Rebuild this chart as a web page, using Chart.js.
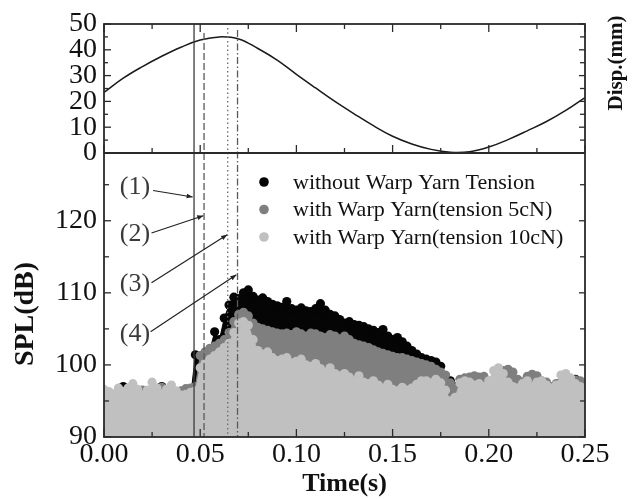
<!DOCTYPE html>
<html><head><meta charset="utf-8">
<script src="https://cdn.jsdelivr.net/npm/chart.js@4.4.1/dist/chart.umd.min.js"></script>
<style>html,body{margin:0;padding:0;background:#fff;}</style>
</head><body>
<canvas id="c" width="633" height="499"></canvas>
<script>
// ---------- DATA ----------
const splTime = [0,0.0025,0.005,0.0075,0.01,0.0125,0.015,0.0175,0.02,0.0225,0.025,0.0275,0.03,0.0325,0.035,0.0375,0.04,0.0425,0.045,0.0475,0.05,0.0525,0.055,0.0575,0.06,0.0625,0.065,0.0675,0.07,0.0725,0.075,0.0775,0.08,0.0825,0.085,0.0875,0.09,0.0925,0.095,0.0975,0.1,0.1025,0.105,0.1075,0.11,0.1125,0.115,0.1175,0.12,0.1225,0.125,0.1275,0.13,0.1325,0.135,0.1375,0.14,0.1425,0.145,0.1475,0.15,0.1525,0.155,0.1575,0.16,0.1625,0.165,0.1675,0.17,0.1725,0.175,0.1775,0.18,0.1825,0.185,0.1875,0.19,0.1925,0.195,0.1975,0.2,0.2025,0.205,0.2075,0.21,0.2125,0.215,0.2175,0.22,0.2225,0.225,0.2275,0.23,0.2325,0.235,0.2375,0.24,0.2425,0.245,0.2475,0.25];
const splNoTension = [95.5,95.8,95.0,95.6,97.0,95.5,95.2,96.0,96.3,95.5,95.0,96.3,97.0,95.5,95.2,95.0,95.5,95.3,95.5,101.4,100.5,101.0,102.0,104.6,103.5,106.5,108.3,109.4,109.2,110.0,110.4,109.5,109.0,109.3,108.8,108.4,108.2,108.0,108.8,107.8,107.6,107.9,107.5,107.4,107.8,108.5,107.6,107.0,106.8,106.3,105.8,106.0,105.6,105.5,105.3,105.0,104.8,104.5,104.9,104.0,103.5,103.8,103.2,102.6,102.0,101.5,101.0,100.8,100.6,100.4,99.8,98.5,97.8,97.0,96.5,96.0,96.5,96.8,96.0,96.5,96.0,96.3,96.5,98.5,99.0,98.0,96.5,96.2,96.0,96.3,96.5,96.0,96.4,96.8,97.0,96.0,96.5,97.8,98.0,97.6,96.5];
const spl5cN = [96.0,95.6,95.8,95.3,96.2,96.0,95.5,96.0,96.5,95.0,95.6,96.0,96.9,96.0,95.8,96.2,96.4,96.7,96.8,97.0,101.3,101.8,102.3,102.6,103.0,103.5,104.5,106.0,107.0,107.3,106.8,105.8,105.2,105.0,104.8,104.6,104.4,104.3,104.4,104.2,104.6,104.3,104.0,104.4,104.3,104.0,103.8,104.2,104.0,103.6,104.0,103.5,103.0,102.8,102.6,102.4,102.1,101.8,101.6,101.4,101.2,101.0,101.0,100.8,100.6,100.4,100.2,100.0,99.8,99.4,99.0,98.6,97.5,96.8,98.0,98.2,98.3,98.5,98.3,98.4,97.6,98.0,98.4,99.2,99.4,99.0,98.0,97.6,98.4,98.7,98.5,97.8,97.6,97.0,97.4,97.6,97.5,97.6,97.9,97.8,97.2];
const spl10cN = [96.6,96.3,96.0,96.8,96.3,96.8,97.4,96.6,95.8,96.5,97.6,96.8,96.0,96.6,97.2,96.4,95.8,95.9,96.2,96.4,99.6,100.2,100.8,101.3,101.8,102.4,103.0,104.5,105.8,106.0,105.5,103.5,102.0,101.5,101.8,101.0,100.6,100.8,101.0,100.3,100.5,100.8,100.0,99.8,100.2,99.5,99.0,99.6,98.8,98.5,98.8,98.3,97.8,98.5,97.6,97.4,97.8,97.2,96.8,97.3,96.6,96.4,96.9,96.5,96.8,97.3,97.8,97.8,97.5,98.0,97.5,96.5,95.0,95.5,97.5,97.8,97.6,97.2,97.4,97.0,97.8,99.2,99.6,98.8,97.6,97.0,96.8,97.4,97.8,97.0,97.6,97.8,97.2,96.8,97.2,98.6,98.8,98.2,97.4,97.0,96.8];
const dispTime = [0,0.01,0.02,0.03,0.04,0.05,0.06,0.07,0.08,0.09,0.10,0.11,0.12,0.13,0.14,0.15,0.16,0.17,0.18,0.19,0.20,0.21,0.22,0.23,0.24,0.25];
const dispValues = [23.5,29.0,33.5,37.5,41.0,43.8,45.0,44.2,40.5,36.0,30.5,25.2,20.0,15.2,10.6,6.5,3.5,1.4,0.3,0.5,2.3,5.2,8.6,12.2,16.5,21.5];
const seriesLabels = ['without Warp Yarn Tension','with Warp Yarn(tension 5cN)','with Warp Yarn(tension 10cN)'];
const seriesColors = ['#050505','#7f7f7f','#c0c0c0'];
const markerTimes = [0.0468, 0.052, 0.0643, 0.0694];
const markerLabels = ['(1)','(2)','(3)','(4)'];
const xMajorTicks = [0,0.05,0.10,0.15,0.20,0.25];
const xMinorTicks = [0.025,0.075,0.125,0.175,0.225];
const dispMajorTicks = [0,10,20,30,40,50];
const dispMinorTicks = [5,15,25,35,45];
const splMajorTicks = [90,100,110,120];
const splMinorTicks = [95,105,115,125];

// ---------- STYLE / LAYOUT ----------
const SERIF = '"Liberation Serif","Times New Roman",serif';
const markerDash = [[], [7,3], [1.5,2.8], [7,2.5,1.5,2.5]];
const markerColor = ['#3a3a3a','#5a5a5a','#6a6a6a','#5a5a5a'];
const markerTopGap = [0, 9, 4, 6];
// annotation: text anchor [t, dB], leader from -> to [t, dB]
const annText = [[0.0161,124.6],[0.0161,118.1],[0.0161,111.2],[0.0161,104.2]];
const annFrom = [[0.0255,124.2],[0.0247,118.3],[0.0247,111.4],[0.0242,104.6]];
const annTo   = [[0.0461,123.3],[0.0516,120.7],[0.0640,118.05],[0.0688,112.5]];

function pts(ts, vs){ return ts.map((t,i)=>({x:t, y:vs[i]})); }
const splSeries = [splNoTension, spl5cN, spl10cN];

const datasets = [{
  label:'disp', data: pts(dispTime, dispValues), yAxisID:'yTop', xAxisID:'x',
  borderColor:'#1a1a1a', borderWidth:1.5, pointRadius:0, tension:0.4, fill:false, order:0
}];
splSeries.forEach((vals, i)=>{
  datasets.push({
    label: seriesLabels[i], data: pts(splTime, vals), yAxisID:'yBot', xAxisID:'x',
    borderColor: seriesColors[i], backgroundColor: seriesColors[i], borderWidth:1,
    pointRadius:4.6, pointBackgroundColor: seriesColors[i], pointBorderWidth:0, pointHoverRadius:4.6,
    fill:'start', tension:0, order: 3 - i, clip: 0
  });
});

function drawTick(ctx, x1, y1, x2, y2){ ctx.beginPath(); ctx.moveTo(x1,y1); ctx.lineTo(x2,y2); ctx.stroke(); }
function arrowHead(ctx, x1, y1, x2, y2){
  const ang = Math.atan2(y2-y1, x2-x1), L = 6, W = 2.4;
  ctx.beginPath();
  ctx.moveTo(x2, y2);
  ctx.lineTo(x2 - L*Math.cos(ang) + W*Math.sin(ang), y2 - L*Math.sin(ang) - W*Math.cos(ang));
  ctx.lineTo(x2 - L*Math.cos(ang) - W*Math.sin(ang), y2 - L*Math.sin(ang) + W*Math.cos(ang));
  ctx.closePath(); ctx.fill();
}

const decor = {
  id:'decor',
  afterDatasetsDraw(chart){
    const {ctx, chartArea:a} = chart;
    const x = chart.scales.x, yT = chart.scales.yTop, yB = chart.scales.yBot;
    ctx.save();
    // vertical marker lines
    markerTimes.forEach((t,i)=>{
      const px = x.getPixelForValue(t);
      ctx.beginPath(); ctx.setLineDash(markerDash[i]); ctx.lineWidth = 1.3; ctx.strokeStyle = markerColor[i];
      ctx.moveTo(px, a.top + markerTopGap[i]); ctx.lineTo(px, a.bottom); ctx.stroke();
    });
    ctx.setLineDash([]);
    // frame
    ctx.strokeStyle = '#2a2a2a'; ctx.lineWidth = 1.8;
    ctx.strokeRect(a.left, a.top, a.right - a.left, a.bottom - a.top);
    const sep = yT.bottom;
    drawTick(ctx, a.left, sep, a.right, sep);
    // x ticks (inward) on top edge, separator (upward), bottom edge (upward)
    ctx.lineWidth = 1.3;
    xMajorTicks.forEach(v=>{ const p = x.getPixelForValue(v);
      drawTick(ctx,p,a.top,p,a.top+8); drawTick(ctx,p,sep,p,sep-8); drawTick(ctx,p,a.bottom,p,a.bottom-8); });
    xMinorTicks.forEach(v=>{ const p = x.getPixelForValue(v);
      drawTick(ctx,p,a.top,p,a.top+5); drawTick(ctx,p,sep,p,sep-5); drawTick(ctx,p,a.bottom,p,a.bottom-5); });
    dispMajorTicks.forEach(v=>{ const p = yT.getPixelForValue(v);
      drawTick(ctx,a.left,p,a.left+7,p); drawTick(ctx,a.right,p,a.right-6,p); });
    dispMinorTicks.forEach(v=>{ const p = yT.getPixelForValue(v);
      drawTick(ctx,a.left,p,a.left+4,p); drawTick(ctx,a.right,p,a.right-5,p); });
    splMajorTicks.forEach(v=>{ const p = yB.getPixelForValue(v);
      drawTick(ctx,a.left,p,a.left+7,p); drawTick(ctx,a.right,p,a.right-6,p); });
    splMinorTicks.forEach(v=>{ const p = yB.getPixelForValue(v);
      drawTick(ctx,a.left,p,a.left+5,p); drawTick(ctx,a.right,p,a.right-5,p); });
    // annotations
    ctx.strokeStyle = '#222'; ctx.lineWidth = 1.2;
    ctx.font = '26px ' + SERIF; ctx.textAlign = 'center'; ctx.textBaseline = 'middle';
    markerLabels.forEach((lab,i)=>{
      ctx.fillStyle = '#3a3a3a';
      ctx.fillText(lab, x.getPixelForValue(annText[i][0]), yB.getPixelForValue(annText[i][1]));
      const x1 = x.getPixelForValue(annFrom[i][0]), y1 = yB.getPixelForValue(annFrom[i][1]);
      const x2 = x.getPixelForValue(annTo[i][0]), y2 = yB.getPixelForValue(annTo[i][1]);
      drawTick(ctx, x1, y1, x2, y2);
      ctx.fillStyle = '#222'; arrowHead(ctx, x1, y1, x2, y2);
    });
    // legend
    ctx.font = '22px ' + SERIF; ctx.textAlign = 'left'; ctx.textBaseline = 'middle';
    seriesLabels.forEach((lab,i)=>{
      const ly = 183 + i*27.5;
      ctx.fillStyle = seriesColors[i];
      ctx.beginPath(); ctx.arc(264, ly - 1, 4.8, 0, Math.PI*2); ctx.fill();
      ctx.fillStyle = '#111';
      ctx.fillText(lab, 293, ly);
    });
    // axis titles
    ctx.fillStyle = '#111';
    ctx.font = 'bold 26px ' + SERIF; ctx.textAlign = 'center';
    ctx.fillText('Time(s)', (a.left + a.right)/2, 484);
    ctx.save(); ctx.translate(26, 314); ctx.rotate(-Math.PI/2);
    ctx.font = 'bold 28px ' + SERIF; ctx.fillText('SPL(dB)', 0, 0); ctx.restore();
    ctx.save(); ctx.translate(617, 63); ctx.rotate(-Math.PI/2);
    ctx.font = 'bold 21px ' + SERIF; ctx.fillText('Disp.(mm)', 0, 0); ctx.restore();
    ctx.restore();
  }
};

const tickFont = {family: SERIF, size: 28, lineHeight: 1.2};
const fixedTicks = list => (s => { s.ticks = list.map(v => ({value: v})); });
new Chart(document.getElementById('c'), {
  type:'line',
  data:{ datasets },
  options:{
    responsive:false, animation:false, devicePixelRatio:1,
    layout:{ padding:{ top:24, right:48, left:0, bottom:0 } },
    plugins:{ legend:{display:false}, tooltip:{enabled:false} },
    scales:{
      x:{ type:'linear', position:'bottom', min:0, max:0.25,
          grid:{display:false, drawTicks:false}, border:{display:false},
          afterBuildTicks: fixedTicks(xMajorTicks),
          ticks:{ padding:1, color:'#111', font:tickFont, maxRotation:0, autoSkip:false,
                  callback:v=>Number(v).toFixed(2) },
          afterFit(s){ s.height = 62; } },
      yBot:{ type:'linear', position:'left', stack:'v', stackWeight:284, weight:0, min:90, max:129.4,
          grid:{display:false, drawTicks:false}, border:{display:false},
          afterBuildTicks: fixedTicks(splMajorTicks),
          ticks:{ autoSkip:false, padding:7, color:'#111', font:tickFont },
          afterFit(s){ s.width = 104; } },
      yTop:{ type:'linear', position:'left', stack:'v', stackWeight:129, weight:1, min:0, max:50,
          grid:{display:false, drawTicks:false}, border:{display:false},
          afterBuildTicks: fixedTicks(dispMajorTicks),
          ticks:{ autoSkip:false, padding:7, color:'#111', font:tickFont },
          afterFit(s){ s.width = 104; } }
    }
  },
  plugins:[decor]
});
</script>
</body></html>
